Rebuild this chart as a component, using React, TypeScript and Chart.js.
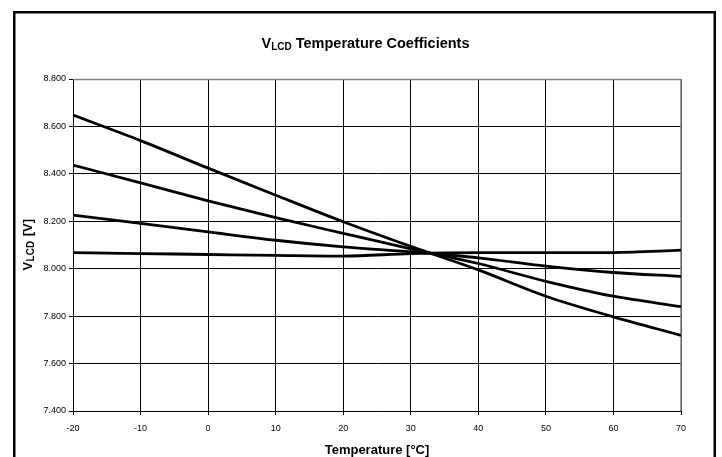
import React, { useEffect, useRef } from "react";
import { Chart, registerables } from "chart.js";

Chart.register(...registerables);

const temperatures = [-20, -10, 0, 10, 20, 30, 40, 50, 60, 70];
const curveA = [8.648, 8.54, 8.424, 8.31, 8.198, 8.094, 7.995, 7.884, 7.797, 7.719];
const curveB = [8.437, 8.362, 8.286, 8.215, 8.149, 8.084, 8.022, 7.947, 7.884, 7.84];
const curveC = [8.226, 8.191, 8.155, 8.12, 8.092, 8.071, 8.046, 8.011, 7.984, 7.968];
const curveD = [8.068, 8.064, 8.06, 8.056, 8.053, 8.064, 8.068, 8.068, 8.068, 8.078];

const yMin = 7.4;
const yMax = 8.8;
const yStep = 0.2;
const xMin = -20;
const xMax = 70;
const xStep = 10;

const FONT = '"Liberation Sans", Arial, sans-serif';

const decorPlugin = {
  id: "decor",
  beforeDatasetsDraw(chart: any) {
    const { ctx, chartArea } = chart;
    ctx.save();
    ctx.strokeStyle = "#808080";
    ctx.lineWidth = 1.5;
    ctx.beginPath();
    ctx.moveTo(chartArea.left, chartArea.top + 0.5);
    ctx.lineTo(chartArea.right, chartArea.top + 0.5);
    ctx.moveTo(chartArea.right, chartArea.top);
    ctx.lineTo(chartArea.right, chartArea.bottom);
    ctx.stroke();
    ctx.restore();
  },
  afterDraw(chart: any) {
    const { ctx, chartArea } = chart;
    ctx.save();
    // outer frame
    ctx.strokeStyle = "#000";
    ctx.lineWidth = 2.5;
    ctx.strokeRect(14.25, 12.25, 700.5, 470);

    ctx.fillStyle = "#000";
    // title with subscript
    const big = `bold 14.5px ${FONT}`;
    const small = `bold 10px ${FONT}`;
    const p1 = "V";
    const p2 = "LCD";
    const p3 = " Temperature Coefficients";
    ctx.font = big;
    const w1 = ctx.measureText(p1).width;
    const w3 = ctx.measureText(p3).width;
    ctx.font = small;
    const w2 = ctx.measureText(p2).width;
    const total = w1 + w2 + w3;
    let x = 365.5 - total / 2;
    const base = 47.5;
    ctx.textBaseline = "alphabetic";
    ctx.textAlign = "left";
    ctx.font = big;
    ctx.fillText(p1, x, base);
    x += w1;
    ctx.font = small;
    ctx.fillText(p2, x, base + 2);
    x += w2;
    ctx.font = big;
    ctx.fillText(p3, x, base);

    // x axis title
    ctx.font = `bold 13px ${FONT}`;
    ctx.textAlign = "center";
    ctx.fillText("Temperature [°C]", (chartArea.left + chartArea.right) / 2, 454);

    // y axis title (rotated) with subscript
    const yb = `bold 13px ${FONT}`;
    const ys = `bold 10px ${FONT}`;
    const q1 = "V";
    const q2 = "LCD";
    const q3 = " [V]";
    ctx.font = yb;
    const v1 = ctx.measureText(q1).width;
    const v3 = ctx.measureText(q3).width;
    ctx.font = ys;
    const v2 = ctx.measureText(q2).width + 1;
    const tot = v1 + v2 + v3;
    ctx.translate(31.5, (chartArea.top + chartArea.bottom) / 2);
    ctx.rotate(-Math.PI / 2);
    ctx.textAlign = "left";
    let xx = -tot / 2;
    ctx.font = yb;
    ctx.fillText(q1, xx, 0);
    xx += v1 + 0.5;
    ctx.font = ys;
    ctx.fillText(q2, xx, 2);
    xx += v2;
    ctx.font = yb;
    ctx.fillText(q3, xx, 0);
    ctx.restore();
  },
};

export default function App() {
  const ref = useRef<HTMLCanvasElement | null>(null);

  useEffect(() => {
    if (!ref.current) return;
    const series = [curveA, curveB, curveC, curveD];
    const chart = new Chart(ref.current, {
      type: "line",
      data: {
        datasets: series.map((vals, i) => ({
          label: `Curve ${i + 1}`,
          data: temperatures.map((t, j) => ({ x: t, y: vals[j] })),
          borderColor: "#000",
          borderWidth: 2.8,
          pointRadius: 0,
          fill: false,
          cubicInterpolationMode: "monotone" as const,
        })),
      },
      options: {
        responsive: false,
        animation: false,
        devicePixelRatio: 1,
        layout: { padding: { left: 0, top: 79, right: 41, bottom: 0 } },
        plugins: {
          legend: { display: false },
          title: { display: false },
          tooltip: { enabled: false },
        },
        scales: {
          x: {
            type: "linear",
            min: xMin,
            max: xMax,
            afterFit: (s: any) => {
              s.height = 46;
            },
            ticks: {
              stepSize: xStep,
              color: "#000",
              font: { family: FONT, size: 9 },
              padding: 8,
              maxRotation: 0,
            },
            grid: { color: "#000", lineWidth: 1, tickLength: 4 },
            border: { color: "#000", width: 1 },
          },
          y: {
            type: "linear",
            min: yMin,
            max: yMax,
            afterFit: (s: any) => {
              s.width = 73;
            },
            ticks: {
              stepSize: yStep,
              color: "#000",
              font: { family: FONT, size: 9 },
              padding: 3,
              callback: (v: any) => Number(v).toFixed(3),
            },
            grid: { color: "#000", lineWidth: 1, tickLength: 4 },
            border: { color: "#000", width: 1 },
          },
        },
      },
      plugins: [decorPlugin],
    });
    return () => chart.destroy();
  }, []);

  return (
    <div style={{ position: "fixed", left: 0, top: 0, width: 722, height: 457, background: "#fff" }}>
      <canvas ref={ref} width={722} height={457} />
    </div>
  );
}
